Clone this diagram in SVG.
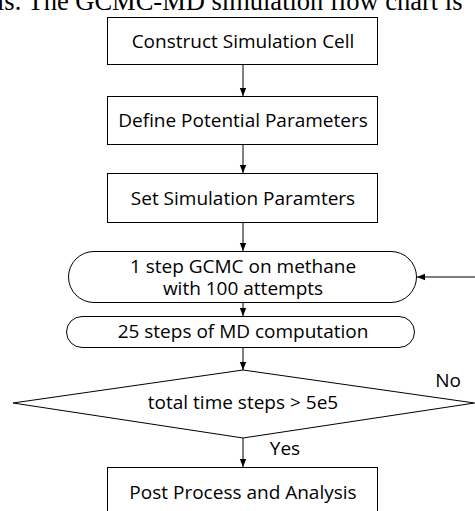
<svg xmlns="http://www.w3.org/2000/svg" width="475" height="511" viewBox="0 0 475 511">
<style>
.n{fill:#fff;stroke:#000;stroke-width:1}
.t{font-family:"Open Sans","Noto Sans","Liberation Sans",sans-serif;font-size:19px;fill:#000;text-anchor:middle}
.c{stroke:#000;stroke-width:1;fill:none}
</style>
<defs>
<marker id="ah" viewBox="0 0 10 10" refX="10" refY="5" markerWidth="8" markerHeight="8" markerUnits="userSpaceOnUse" orient="auto"><path d="M0,1 L10,5 L0,9 Z" fill="#000"/></marker>
</defs>
<rect width="475" height="511" fill="#fff"/>
<text x="-3" y="10" font-family="Liberation Serif,serif" font-size="26.5">is. The GCMC-MD simulation flow chart is</text>
<g id="connectors">
<line class="c" x1="243" y1="64" x2="243" y2="96" marker-end="url(#ah)"/>
<line class="c" x1="243" y1="144" x2="243" y2="173" marker-end="url(#ah)"/>
<line class="c" x1="243" y1="223" x2="243" y2="251" marker-end="url(#ah)"/>
<line class="c" x1="243" y1="302" x2="243" y2="316" marker-end="url(#ah)"/>
<line class="c" x1="243" y1="348" x2="243" y2="370" marker-end="url(#ah)"/>
<line class="c" x1="243" y1="438" x2="243" y2="467" marker-end="url(#ah)"/>
<line class="c" x1="476" y1="277" x2="417" y2="277" marker-end="url(#ah)"/>
<text class="t" x="448" y="387">No</text>
<text class="t" x="285" y="455">Yes</text>
</g>
<g id="n1"><rect class="n" x="107.5" y="17.5" width="270" height="47"/><text class="t" x="243" y="47.5">Construct Simulation Cell</text></g>
<g id="n2"><rect class="n" x="107.5" y="96.5" width="270" height="48"/><text class="t" x="243" y="127">Define Potential Parameters</text></g>
<g id="n3"><rect class="n" x="107.5" y="173.5" width="270" height="49"/><text class="t" x="243" y="204.5">Set Simulation Paramters</text></g>
<g id="n4"><rect class="n" x="68.5" y="251.5" width="348" height="51" rx="25.5"/><text class="t" x="243" y="272.5">1 step GCMC on methane</text><text class="t" x="243" y="294.5">with 100 attempts</text></g>
<g id="n5"><rect class="n" x="66.5" y="316.5" width="348" height="31" rx="15.5"/><text class="t" x="243" y="338">25 steps of MD computation</text></g>
<g id="n6"><polygon class="n" points="243,370 474.5,403 243,438 13,403"/><text class="t" x="243" y="408.5">total time steps &gt; 5e5</text></g>
<g id="n7"><rect class="n" x="107.5" y="467.5" width="270" height="60"/><text class="t" x="243" y="499">Post Process and Analysis</text></g>
</svg>
